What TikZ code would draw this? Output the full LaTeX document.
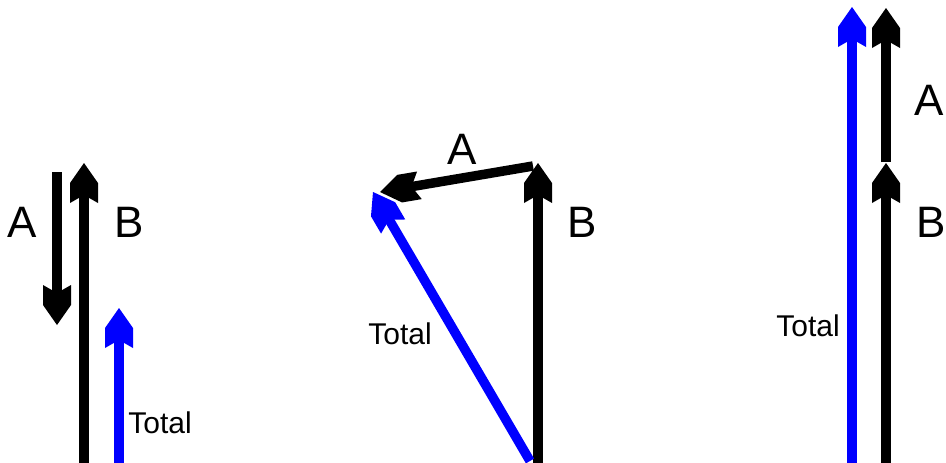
\documentclass[tikz,border=0pt]{standalone}
\usepackage{fontspec}
\setmainfont{Liberation Sans}
\usepackage{tikz}
\usetikzlibrary{arrows.meta}
\definecolor{vecBlue}{RGB}{0, 0, 255}

% block arrow head: point, two shoulders, notched back
\pgfdeclarearrow{
  name=Block,
  parameters={\the\pgfarrowlength,\the\pgfarrowwidth},
  setup code={
    \pgfarrowssettipend{\pgfarrowlength}
    \pgfarrowssetbackend{0pt}
    \pgfarrowssetlineend{.25\pgfarrowlength}
    \pgfarrowssavethe\pgfarrowlength
    \pgfarrowssavethe\pgfarrowwidth
    \pgfarrowshullpoint{\pgfarrowlength}{0pt}
    \pgfarrowsupperhullpoint{0pt}{.5\pgfarrowwidth}
  },
  drawing code={
    \pgfpathmoveto{\pgfqpoint{\pgfarrowlength}{0pt}}
    \pgfpathlineto{\pgfqpoint{.5\pgfarrowlength}{.5\pgfarrowwidth}}
    \pgfpathlineto{\pgfqpoint{0pt}{.5\pgfarrowwidth}}
    \pgfpathlineto{\pgfqpoint{.2\pgfarrowlength}{0pt}}
    \pgfpathlineto{\pgfqpoint{0pt}{-.5\pgfarrowwidth}}
    \pgfpathlineto{\pgfqpoint{.5\pgfarrowlength}{-.5\pgfarrowwidth}}
    \pgfpathclose
    \pgfusepathqfill
  },
  defaults={length=40pt,width=28pt}
}

\tikzset{
  vec/.style={-{Block}, line width=9.5pt},
  tot/.style={vec, color=vecBlue},
  big/.style={font=\fontsize{44}{48}\selectfont},
  small/.style={font=\fontsize{30}{34}\selectfont}
}

\begin{document}
\begin{tikzpicture}[x=1pt, y=-1pt]
    \useasboundingbox (0,0) rectangle (946,463);
    % Left: A opposite to B
    \coordinate (a1s) at (57,172);
    \coordinate (a1e) at (57,325);
    \coordinate (b1s) at (84,463);
    \coordinate (b1e) at (84,163);
    \coordinate (t1s) at (119,463);
    \coordinate (t1e) at (119,308);
    \draw[vec] (a1s) -- (a1e);
    \draw[vec] (b1s) -- (b1e);
    \draw[tot] (t1s) -- (t1e);
    \node[big] (la1) at (22,222) {A};
    \node[big] (lb1) at (129,222) {B};
    \node[small] (lt1) at (160,423) {Total};
    % Middle: A at an angle to B
    \coordinate (b2s) at (538,463);
    \coordinate (b2e) at (538,163);
    \coordinate (a2s) at (533,166);
    \coordinate (a2e) at (380,192);
    \coordinate (t2s) at (530,461);
    \coordinate (t2e) at (373,192);
    \draw[vec] (b2s) -- (b2e);
    \draw[vec] (a2s) -- (a2e);
    \draw[tot] (t2s) -- (t2e);
    \node[big] (la2) at (462,149) {A};
    \node[big] (lb2) at (582,222) {B};
    \node[small] (lt2) at (400,334) {Total};
    % Right: A in line with B
    \coordinate (t3s) at (852,463);
    \coordinate (t3e) at (852,7);
    \coordinate (b3s) at (886,463);
    \coordinate (b3e) at (886,163);
    \coordinate (a3s) at (886,162);
    \coordinate (a3e) at (886,8);
    \draw[tot] (t3s) -- (t3e);
    \draw[vec] (b3s) -- (b3e);
    \draw[vec] (a3s) -- (a3e);
    \node[big] (la3) at (929,100) {A};
    \node[big] (lb3) at (931,222) {B};
    \node[small] (lt3) at (808,326) {Total};
\end{tikzpicture}
\end{document}
